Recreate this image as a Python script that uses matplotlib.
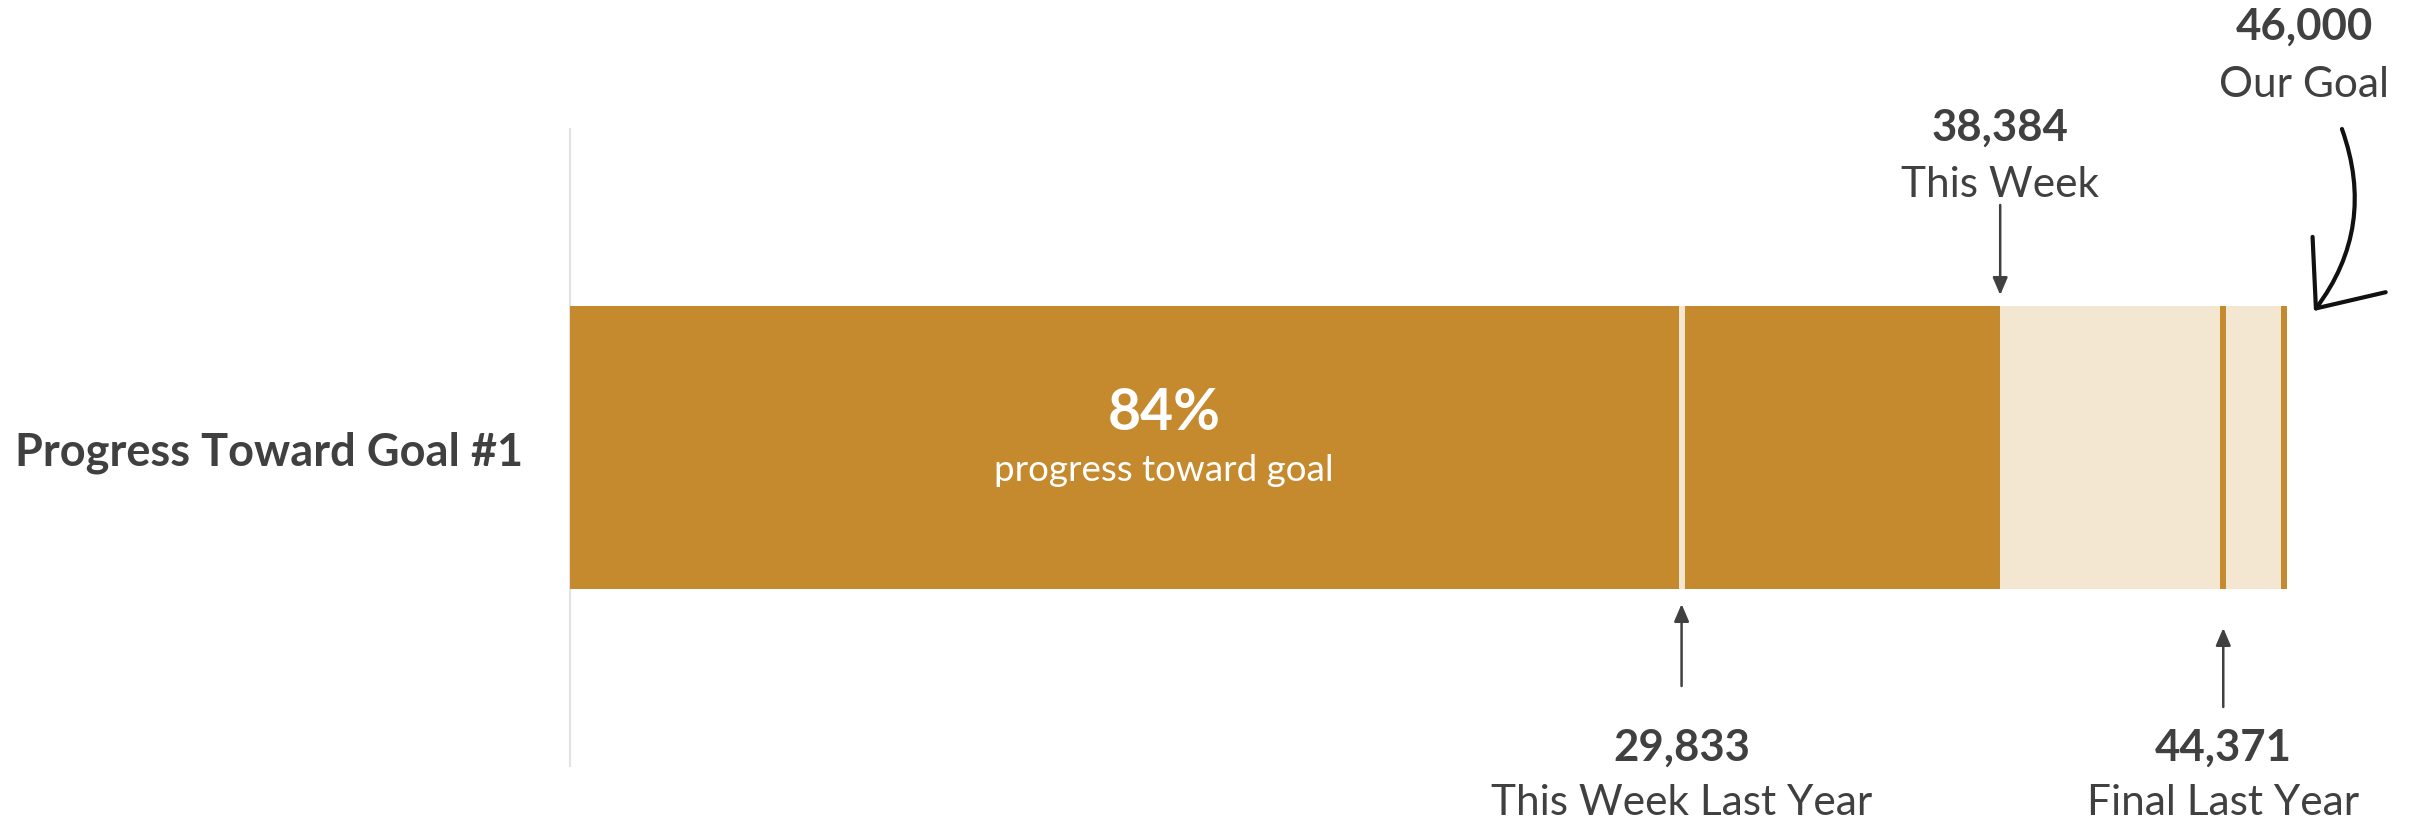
import matplotlib
matplotlib.use("Agg")
import matplotlib.pyplot as plt

# values shown in the chart
CATEGORY = "Progress Toward Goal #1"
THIS_WEEK = 38384
THIS_WEEK_LAST_YEAR = 29833
FINAL_LAST_YEAR = 44371
GOAL = 46000
PCT_LABEL = "84%"
PCT_SUB = "progress toward goal"

DARK = "#C68A2E"
LIGHT = "#F4E7D2"
TEXT = "#404040"
FONT = "Lato"

W, H = 2433, 820
fig = plt.figure(figsize=(W / 100, H / 100), dpi=100)
# axes spans the grey axis line: x from 570 px, y from 130 to 767 px (top-down)
ax = fig.add_axes([570 / W, (H - 767) / H, (W - 570) / W, 637 / H])
ax.set_xlim(0, 50000)
ax.set_ylim(-0.9, 0.9)

ax.barh(0, GOAL, height=0.8, color=LIGHT, zorder=2)
ax.barh(0, THIS_WEEK, height=0.8, color=DARK, zorder=3)
ax.vlines(THIS_WEEK_LAST_YEAR, -0.4, 0.4, color=LIGHT, lw=4.3, zorder=4)
ax.vlines(FINAL_LAST_YEAR, -0.4, 0.4, color=DARK, lw=4.3, zorder=4)
ax.vlines(GOAL, -0.4, 0.4, color=DARK, lw=4.3, zorder=4)

for s in ["top", "right", "bottom"]:
    ax.spines[s].set_visible(False)
ax.spines["left"].set_color("#e2e2e2")
ax.spines["left"].set_linewidth(1.5)
ax.set_xticks([])
ax.set_yticks([0], [CATEGORY])
ax.tick_params(axis="y", length=0, pad=34)
for lab in ax.get_yticklabels():
    lab.set_fontfamily(FONT)
    lab.set_fontweight("bold")
    lab.set_fontsize(32.5)
    lab.set_color(TEXT)

# text inside the bar
ax.text(0.319, 0.5 + (447.5 - 429) / 637, PCT_LABEL, transform=ax.transAxes,
        ha="center", va="baseline", color="white", fontsize=41,
        fontweight="bold", family=FONT)
ax.text(0.319, 0.5 + (447.5 - 480) / 637, PCT_SUB, transform=ax.transAxes,
        ha="center", va="baseline", color="white", fontsize=26.5, family=FONT)

mix = ("data", "figure pixels")


def label(x, y_num, y_txt, num, txt):
    ax.annotate(f"{num:,}", xy=(x, H - y_num), xycoords=mix, ha="center",
                va="baseline", fontsize=31.5, fontweight="bold", color=TEXT,
                family=FONT, annotation_clip=False)
    ax.annotate(txt, xy=(x, H - y_txt), xycoords=mix, ha="center",
                va="baseline", fontsize=30.5, color=TEXT, family=FONT,
                annotation_clip=False)


def arrow(x, y_tail, y_tip):
    ax.annotate("", xy=(x, H - y_tip), xycoords=mix,
                xytext=(x, H - y_tail), textcoords=mix,
                arrowprops=dict(arrowstyle="-|>,head_length=0.7,head_width=0.3",
                                mutation_scale=15, color=TEXT, lw=1.8,
                                shrinkA=0, shrinkB=0),
                annotation_clip=False)


label(THIS_WEEK, 141, 197, THIS_WEEK, "This Week")
arrow(THIS_WEEK, 206, 296)

label(THIS_WEEK_LAST_YEAR, 761, 815, THIS_WEEK_LAST_YEAR, "This Week Last Year")
arrow(THIS_WEEK_LAST_YEAR, 687, 605)

label(FINAL_LAST_YEAR, 761, 815, FINAL_LAST_YEAR, "Final Last Year")
arrow(FINAL_LAST_YEAR, 708, 629)

# goal label sits a bit right of the goal marker
gx = ax.transData.transform((GOAL, 0))[0]
fig.text((gx + 20) / W, (H - 40) / H, f"{GOAL:,}", ha="center", va="baseline",
         fontsize=31.5, fontweight="bold", color=TEXT, family=FONT)
fig.text((gx + 20) / W, (H - 97) / H, "Our Goal", ha="center", va="baseline",
         fontsize=30.5, color=TEXT, family=FONT)
ax.annotate("", xy=(gx + 30, H - 312), xycoords="figure pixels",
            xytext=(gx + 58, H - 130), textcoords="figure pixels",
            arrowprops=dict(arrowstyle="->,head_length=1.2,head_width=1.0",
                            mutation_scale=33, color="#111111", lw=3,
                            connectionstyle="arc3,rad=-0.27",
                            shrinkA=0, shrinkB=0),
            annotation_clip=False)

fig.savefig("out.png", dpi=100)
